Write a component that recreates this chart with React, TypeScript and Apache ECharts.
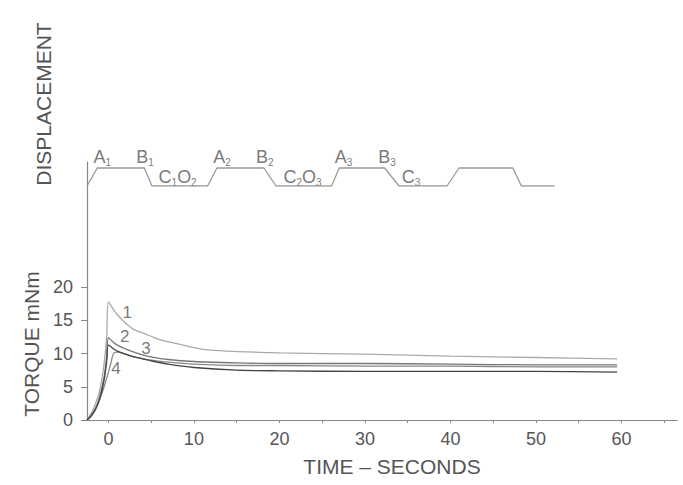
import React, { useEffect, useRef } from "react";
import * as echarts from "echarts";

// ---- data ----
const xTickValues = [0, 5, 10, 15, 20, 25, 30, 35, 40, 45, 50, 55, 60, 65];
const xLabelValues = [0, 10, 20, 30, 40, 50, 60];
const yTickValues = [0, 5, 10, 15, 20];

// displacement trace (0 = rest, 1 = displaced)
const displacement: number[][] = [
  [-2.5, 0], [-1.3, 1], [4.2, 1], [5.1, 0], [11.6, 0], [12.7, 1], [18.2, 1], [19.6, 0],
  [26.1, 0], [27.0, 1], [32.3, 1], [34.0, 0], [39.6, 0], [41.0, 1], [47.3, 1], [48.3, 0],
  [52.2, 0],
];
const displacementLabels = [
  { name: "A|1", pos: [-0.7, 1.6] },
  { name: "B|1", pos: [4.3, 1.6] },
  { name: "C|1|O|2", pos: [8.1, 0.5] },
  { name: "A|2", pos: [13.3, 1.6] },
  { name: "B|2", pos: [18.3, 1.6] },
  { name: "C|2|O|3", pos: [22.7, 0.5] },
  { name: "A|3", pos: [27.5, 1.6] },
  { name: "B|3", pos: [32.6, 1.6] },
  { name: "C|3", pos: [35.4, 0.5] },
];

const torque1: number[][] = [
  [-2.5, 0], [-2, 1], [-1.5, 2.5], [-1, 4.5], [-0.5, 8.5], [-0.2, 12.5], [0, 17.8],
  [0.5, 16.8], [1, 15.9], [2, 14.6], [3, 13.6], [4, 13.1], [5, 12.6], [6, 12.1],
  [8, 11.5], [10, 10.9], [12, 10.5], [15, 10.3], [20, 10.1], [30, 9.9], [40, 9.6],
  [50, 9.4], [59.5, 9.2],
];
const torque2: number[][] = [
  [-2.5, 0], [-2, 0.7], [-1.5, 1.8], [-1, 3.6], [-0.5, 6.5], [-0.2, 9.5], [0, 12.4],
  [0.5, 11.8], [1, 11.3], [2, 10.7], [3, 10.2], [4, 9.8], [5, 9.5], [7, 9.1],
  [10, 8.8], [15, 8.6], [20, 8.5], [30, 8.5], [40, 8.4], [50, 8.3], [59.5, 8.3],
];
const torque3: number[][] = [
  [-2.5, 0], [-2, 0.6], [-1.5, 1.6], [-1, 3.2], [-0.5, 6], [-0.2, 8.8], [0, 11.3],
  [0.5, 10.8], [1, 10.4], [2, 9.9], [3, 9.5], [4, 9.2], [5, 8.9], [7, 8.4],
  [10, 7.9], [15, 7.5], [20, 7.4], [30, 7.3], [40, 7.3], [50, 7.3], [59.5, 7.2],
];
const torque4: number[][] = [
  [-2.5, 0], [-2, 0.8], [-1.5, 1.8], [-1, 3.2], [-0.5, 5], [0, 7.2], [0.3, 8.6],
  [0.6, 10], [1, 10.2], [2, 9.9], [3, 9.5], [4, 9.2], [5, 9.0], [7, 8.7],
  [10, 8.4], [15, 8.2], [20, 8.2], [30, 8.1], [40, 8.1], [50, 8.0], [59.5, 8.0],
];
const curveLabels = [
  { name: "1", pos: [2.2, 16.1] },
  { name: "2", pos: [1.9, 12.6] },
  { name: "3", pos: [4.4, 10.7] },
  { name: "4", pos: [0.9, 7.8] },
];

const FONT = "Liberation Sans, Arial, sans-serif";
const TEXT = "#555";
const AXIS = "#888";

function richName(n: string): string {
  const parts = n.split("|");
  let out = "";
  parts.forEach((p, i) => {
    out += i % 2 === 0 ? `{m|${p}}` : `{s|${p}}`;
  });
  return out;
}

export default function App() {
  const ref = useRef<HTMLDivElement>(null);
  useEffect(() => {
    if (!ref.current) return;
    const chart = echarts.init(ref.current, undefined, { renderer: "svg" });
    const xBase = { type: "value", min: -2.5, max: 66.5 };
    const lineSeries = (data: number[][], color: string, width = 1.3) => ({
      type: "line",
      xAxisIndex: 0,
      yAxisIndex: 0,
      data,
      showSymbol: false,
      symbol: "none",
      smooth: 0.3,
      lineStyle: { color, width },
    });
    chart.setOption({
      animation: false,
      backgroundColor: "#fff",
      textStyle: { fontFamily: FONT },
      grid: [
        { left: 87, right: 6, top: 186, bottom: 65 },
        { left: 87, right: 6, top: 162, height: 24 },
      ],
      xAxis: [
        {
          ...xBase,
          gridIndex: 0,
          axisLine: { show: true, onZero: false, lineStyle: { color: AXIS, width: 1.2 } },
          axisTick: { show: true, customValues: xTickValues, length: 3, lineStyle: { color: AXIS } },
          axisLabel: { customValues: xLabelValues, color: TEXT, fontSize: 18, margin: 10, fontFamily: FONT },
          splitLine: { show: false },
          name: "TIME \u2013 SECONDS",
          nameLocation: "middle",
          nameGap: 36,
          nameTextStyle: { color: TEXT, fontSize: 21, fontFamily: FONT, padding: [0, 0, 0, 20] },
        },
        { ...xBase, gridIndex: 1, show: false, axisLine: { onZero: false } },
      ],
      yAxis: [
        {
          type: "value",
          gridIndex: 0,
          min: 0,
          max: 35.2,
          axisLine: { show: true, onZero: false, lineStyle: { color: AXIS, width: 1.2 } },
          axisTick: { show: true, customValues: yTickValues, length: 6, lineStyle: { color: AXIS } },
          axisLabel: { customValues: yTickValues, color: TEXT, fontSize: 18, margin: 14, fontFamily: FONT },
          splitLine: { show: false },
        },
        {
          type: "value",
          gridIndex: 1,
          min: 0,
          max: 24 / 18,
          axisLine: { show: true, onZero: false, lineStyle: { color: AXIS, width: 1.2 } },
          axisTick: { show: false },
          axisLabel: { show: false },
          splitLine: { show: false },
        },
      ],
      graphic: [
        {
          type: "text",
          x: 43,
          y: 104,
          rotation: Math.PI / 2,
          style: {
            text: "DISPLACEMENT",
            fill: TEXT,
            font: `21px ${FONT}`,
            align: "center",
            verticalAlign: "middle",
          },
        },
        {
          type: "text",
          x: 31,
          y: 344,
          rotation: Math.PI / 2,
          style: {
            text: "TORQUE mNm",
            fill: TEXT,
            font: `21px ${FONT}`,
            align: "center",
            verticalAlign: "middle",
          },
        },
      ],
      series: [
        {
          type: "line",
          xAxisIndex: 1,
          yAxisIndex: 1,
          data: displacement,
          showSymbol: false,
          symbol: "none",
          lineStyle: { color: "#999", width: 1.3 },
        },
        {
          type: "scatter",
          xAxisIndex: 1,
          yAxisIndex: 1,
          clip: false,
          symbolSize: 0,
          data: displacementLabels.map((d) => ({ value: d.pos, name: d.name })),
          label: {
            show: true,
            position: "inside",
            formatter: (p: any) => richName(p.name),
            rich: {
              m: { fontSize: 18, color: TEXT, fontFamily: FONT, lineHeight: 20 },
              s: { fontSize: 10, color: TEXT, fontFamily: FONT, lineHeight: 12, verticalAlign: "bottom" },
            },
          },
        },
        lineSeries(torque1, "#aaa"),
        lineSeries(torque2, "#777"),
        lineSeries(torque4, "#888"),
        lineSeries(torque3, "#444"),
        {
          type: "scatter",
          xAxisIndex: 0,
          yAxisIndex: 0,
          symbolSize: 0,
          data: curveLabels.map((d) => ({ value: d.pos, name: d.name })),
          label: {
            show: true,
            position: "inside",
            formatter: (p: any) => p.name,
            color: TEXT,
            fontSize: 17,
            fontFamily: FONT,
          },
        },
      ],
    });
    return () => chart.dispose();
  }, []);
  return (
    <div
      ref={ref}
      style={{ position: "fixed", left: 0, top: 0, width: 683, height: 485, background: "#fff" }}
    />
  );
}
